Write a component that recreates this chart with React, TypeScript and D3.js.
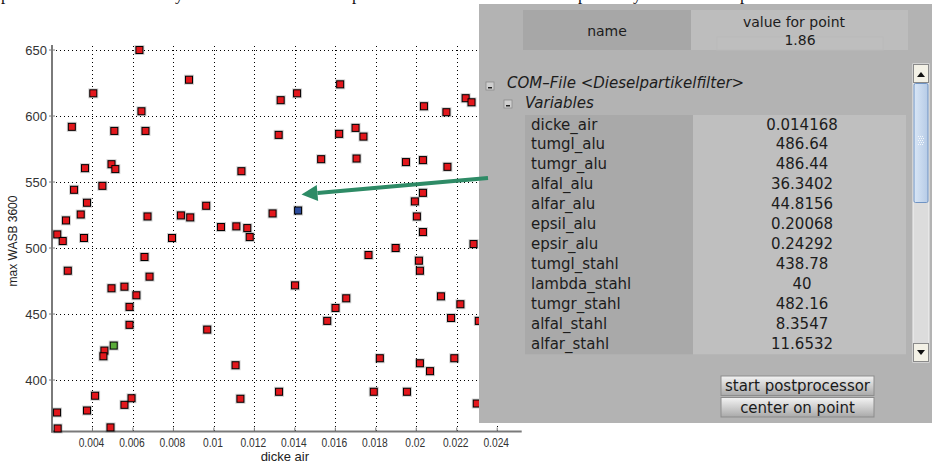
import React, { useEffect, useRef } from 'react';
import * as d3 from 'd3';

// scatter data: dicke air vs. max WASB 3600
const dickeAir = [
    0.00632, 0.00404, 0.00877, 0.00642, 0.00298, 0.00508, 0.00662, 0.00363, 0.00494, 0.00513,
    0.00309, 0.00449, 0.00373, 0.00342, 0.00269, 0.00672, 0.00837, 0.00883, 0.00962, 0.01035,
    0.01111, 0.01165, 0.01136, 0.00226, 0.00253, 0.00358, 0.00793, 0.00278, 0.00657, 0.00682,
    0.00494, 0.00558, 0.00617, 0.00583, 0.00583, 0.00459, 0.00454, 0.00967, 0.01107, 0.01131,
    0.00413, 0.00373, 0.00225, 0.00228, 0.00489, 0.00558, 0.00593, 0.01177, 0.01898, 0.01764,
    0.02013, 0.02018, 0.02283, 0.02033, 0.01401, 0.01654, 0.01601, 0.0156, 0.02122, 0.02218,
    0.02172, 0.02309, 0.0182, 0.02018, 0.02068, 0.02188, 0.01322, 0.0179, 0.01954, 0.02299,
    0.01624, 0.01411, 0.0133, 0.02038, 0.02149, 0.02244, 0.02273, 0.0132, 0.017, 0.01619,
    0.01739, 0.0153, 0.01705, 0.01949, 0.02033, 0.02154, 0.02033, 0.01993, 0.02003, 0.0129
];
const maxWasb = [
    650, 617.2, 627.5, 603.6, 591.8, 588.7, 588.7, 560.5, 563.5, 559.8,
    544.1, 547.1, 534.3, 525.4, 520.9, 523.9, 524.7, 523.2, 532.0, 515.9,
    516.4, 515.1, 558.2, 510.3, 505.3, 507.6, 507.6, 482.8, 493.2, 478.3,
    469.5, 470.7, 464.2, 455.4, 441.8, 422.3, 418.0, 438.2, 411.2, 385.8,
    388.1, 376.9, 375.4, 363.3, 364.1, 381.2, 386.2, 508.3, 500.0, 494.7,
    490.4, 482.8, 503.0, 512.1, 471.7, 461.9, 454.6, 444.8, 463.4, 457.4,
    447.0, 444.8, 416.5, 412.7, 406.7, 416.5, 391.1, 391.1, 391.1, 382.2,
    624.0, 617.2, 612.0, 607.4, 602.9, 613.5, 610.4, 585.7, 591.0, 586.5,
    584.4, 567.3, 567.8, 565.1, 566.6, 561.5, 541.8, 535.3, 523.9, 526.2
];
const greenPoint = { x: 0.00505, y: 426.1 };
const selectedPoint = { x: 0.01416, y: 528.4 };

const xTicks = [0.004, 0.006, 0.008, 0.01, 0.012, 0.014, 0.016, 0.018, 0.02, 0.022, 0.024];
const xTickLabels = ['0.004', '0.006', '0.008', '0.01', '0.012', '0.014', '0.016', '0.018', '0.02', '0.022', '0.024'];
const yTicks = [400, 450, 500, 550, 600, 650];

// info panel contents
const pointValue = '1.86';
const variableNames = [
    'dicke_air', 'tumgl_alu', 'tumgr_alu', 'alfal_alu', 'alfar_alu', 'epsil_alu',
    'epsir_alu', 'tumgl_stahl', 'lambda_stahl', 'tumgr_stahl', 'alfal_stahl', 'alfar_stahl'
];
const variableValues = [
    '0.014168', '486.64', '486.44', '36.3402', '44.8156', '0.20068',
    '0.24292', '438.78', '40', '482.16', '8.3547', '11.6532'
];

const App = () => {
    const svgRef = useRef(null);

    useEffect(() => {
        const svg = d3.select(svgRef.current);
        svg.selectAll('*').remove();

        const width = 932,
              height = 465,
              left = 52, right = 521.7, top = 45, bottom = 431.5;

        const x = d3.scaleLinear().domain([0.002, 0.02521]).range([left, right]);
        const y = d3.scaleLinear().domain([361, 653.8]).range([bottom, top]);

        svg.attr('width', width).attr('height', height);
        svg.append('rect').attr('width', width).attr('height', height).attr('fill', '#fff');

        // cropped line of text above the figure: only the descenders show
        const cutText = svg.append('g')
            .attr('font-family', '"Liberation Serif", serif')
            .attr('font-size', 17)
            .attr('fill', '#111');
        [[1, 'p'], [175, 'y'], [352, 'p'], [578, 'p'], [633, 'y'], [740, 'p']].forEach(([px, ch]) => {
            cutText.append('text').attr('x', px).attr('y', 0).text(ch);
        });

        // grid
        const grid = svg.append('g')
            .attr('stroke', '#000')
            .attr('stroke-width', 1)
            .attr('stroke-dasharray', '1,3')
            .attr('shape-rendering', 'crispEdges');

        xTicks.forEach(t => {
            const px = Math.round(x(t)) + 0.5;
            grid.append('line').attr('x1', px).attr('x2', px).attr('y1', top + 1).attr('y2', bottom);
        });
        yTicks.forEach(t => {
            const py = Math.round(y(t)) + 0.5;
            grid.append('line').attr('x1', left).attr('x2', right).attr('y1', py).attr('y2', py);
        });

        // axes
        const axes = svg.append('g').attr('stroke', '#7a7a7a').attr('fill', 'none');
        axes.append('line').attr('x1', left).attr('x2', left).attr('y1', top).attr('y2', bottom + 1).attr('stroke-width', 2);
        axes.append('line').attr('x1', left - 1).attr('x2', right).attr('y1', bottom).attr('y2', bottom).attr('stroke-width', 2);

        xTicks.forEach(t => {
            axes.append('line').attr('x1', x(t)).attr('x2', x(t)).attr('y1', bottom).attr('y2', bottom - 4).attr('stroke-width', 1);
        });
        yTicks.forEach(t => {
            axes.append('line').attr('x1', left - 3).attr('x2', left + 3).attr('y1', y(t)).attr('y2', y(t)).attr('stroke-width', 1);
        });

        const tickText = svg.append('g')
            .attr('font-family', '"Liberation Sans", Arial, sans-serif')
            .attr('fill', '#333');

        yTicks.forEach(t => {
            tickText.append('text')
                .attr('x', left - 5)
                .attr('y', y(t))
                .attr('dy', '0.36em')
                .attr('text-anchor', 'end')
                .attr('font-size', 13)
                .text(t);
        });

        xTicks.forEach((t, i) => {
            tickText.append('g')
                .attr('transform', `translate(${x(t) - 1},${446.5})`)
                .append('text')
                .attr('transform', 'scale(0.82,1)')
                .attr('text-anchor', 'middle')
                .attr('font-size', 12.5)
                .text(xTickLabels[i]);
        });

        svg.append('text')
            .attr('x', (left + right) / 2 - 2)
            .attr('y', 461)
            .attr('text-anchor', 'middle')
            .attr('font-family', '"Liberation Sans", Arial, sans-serif')
            .attr('font-size', 13)
            .attr('fill', '#222')
            .text('dicke air');

        svg.append('text')
            .attr('transform', `translate(17,${241}) rotate(-90)`)
            .attr('text-anchor', 'middle')
            .attr('font-family', '"Liberation Sans", Arial, sans-serif')
            .attr('font-size', 12)
            .attr('fill', '#222')
            .text('max WASB 3600');

        // markers
        const points = dickeAir.map((d, i) => ({ x: d, y: maxWasb[i], fill: '#e3171c' }));
        points.push({ ...greenPoint, fill: '#5aab3a' });
        points.push({ ...selectedPoint, fill: '#2c4c9c' });

        const markers = svg.append('g');
        markers.selectAll('rect.halo')
            .data(points)
            .enter()
            .append('rect')
            .attr('class', 'halo')
            .attr('x', d => x(d.x) - 5)
            .attr('y', d => y(d.y) - 5)
            .attr('width', 10)
            .attr('height', 10)
            .attr('fill', 'rgba(0,0,0,0.18)');
        markers.selectAll('rect.dot')
            .data(points)
            .enter()
            .append('rect')
            .attr('class', 'dot')
            .attr('x', d => x(d.x) - 3.5)
            .attr('y', d => y(d.y) - 3.5)
            .attr('width', 7)
            .attr('height', 7)
            .attr('fill', d => d.fill)
            .attr('stroke', '#000')
            .attr('stroke-width', 1);

        drawPanel(svg);
        drawArrow(svg);
    }, []);

    const drawPanel = function (svg) {
        const defs = svg.append('defs');
        const btnGrad = defs.append('linearGradient').attr('id', 'btnGrad').attr('x1', 0).attr('x2', 0).attr('y1', 0).attr('y2', 1);
        btnGrad.append('stop').attr('offset', '0%').attr('stop-color', '#f4f4f4');
        btnGrad.append('stop').attr('offset', '100%').attr('stop-color', '#a9a9a9');
        const thumbGrad = defs.append('linearGradient').attr('id', 'thumbGrad').attr('x1', 0).attr('x2', 1).attr('y1', 0).attr('y2', 0);
        thumbGrad.append('stop').attr('offset', '0%').attr('stop-color', '#d9e6f6');
        thumbGrad.append('stop').attr('offset', '100%').attr('stop-color', '#b6cbe6');

        const font = '"DejaVu Sans", Verdana, sans-serif';
        const panel = svg.append('g').attr('font-family', font).attr('fill', '#1c1c1c');

        panel.append('rect').attr('x', 479).attr('y', 4).attr('width', 453).attr('height', 419).attr('fill', '#b3b3b3');

        // header
        panel.append('rect').attr('x', 523).attr('y', 10).attr('width', 168).attr('height', 40).attr('fill', '#a7a7a7');
        panel.append('rect').attr('x', 691).attr('y', 10).attr('width', 217).attr('height', 40).attr('fill', '#bdbdbd');
        panel.append('rect').attr('x', 717).attr('y', 37).attr('width', 166).attr('height', 13)
            .attr('fill', '#bebebe').attr('stroke', '#bababa');
        panel.append('text').attr('x', 607).attr('y', 36).attr('text-anchor', 'middle').attr('font-size', 14).text('name');
        panel.append('text').attr('x', 794).attr('y', 27).attr('text-anchor', 'middle').attr('font-size', 14).text('value for point');
        panel.append('text').attr('x', 800).attr('y', 45).attr('text-anchor', 'middle').attr('font-size', 14).text(pointValue);

        // tree
        const treeIcon = (ix, iy) => {
            panel.append('rect').attr('x', ix).attr('y', iy).attr('width', 8).attr('height', 8)
                .attr('fill', '#cfcfcf').attr('stroke', '#8c8c8c').attr('stroke-width', 0.8);
            panel.append('rect').attr('x', ix + 2).attr('y', iy + 5).attr('width', 4).attr('height', 1.5).attr('fill', '#222');
        };
        treeIcon(486, 82);
        panel.append('text').attr('x', 507).attr('y', 88).attr('font-size', 15).attr('font-style', 'italic')
            .text('COM–File <Dieselpartikelfilter>');
        treeIcon(504, 100);
        panel.append('text').attr('x', 525).attr('y', 108).attr('font-size', 15).attr('font-style', 'italic')
            .text('Variables');

        // table of variables
        const rowH = 19.94, tableTop = 115;
        const tableH = rowH * variableNames.length;
        panel.append('rect').attr('x', 525).attr('y', tableTop).attr('width', 168).attr('height', tableH).attr('fill', '#a9a9a9');
        panel.append('rect').attr('x', 693).attr('y', tableTop).attr('width', 213).attr('height', tableH).attr('fill', '#bfbfbf');

        variableNames.forEach((name, i) => {
            const base = tableTop + i * rowH + 14.5;
            panel.append('text').attr('x', 531).attr('y', base).attr('font-size', 15).text(name);
            panel.append('text').attr('x', 802).attr('y', base).attr('font-size', 15).attr('text-anchor', 'middle').text(variableValues[i]);
        });

        // scrollbar
        const sb = panel.append('g');
        sb.append('rect').attr('x', 913).attr('y', 64).attr('width', 16).attr('height', 298)
            .attr('fill', '#dcdcdc').attr('stroke', '#f2f2f2');
        sb.append('rect').attr('x', 913.5).attr('y', 64.5).attr('width', 15).attr('height', 18)
            .attr('fill', '#f3f1e6').attr('stroke', '#8a8a8a');
        sb.append('path').attr('d', 'M917,77 L921,72 L925,77 Z').attr('fill', '#111');
        sb.append('rect').attr('x', 914).attr('y', 83.5).attr('width', 14).attr('height', 119)
            .attr('fill', 'url(#thumbGrad)').attr('stroke', '#6f93c3').attr('rx', 1.5);
        for (let gy = 0; gy < 5; gy++) {
            for (let gx = 0; gx < 3; gx++) {
                sb.append('rect').attr('x', 918 + gx * 2 + (gy % 2)).attr('y', 136 + gy * 2)
                    .attr('width', 1).attr('height', 1).attr('fill', '#f4f8fc');
            }
        }
        sb.append('rect').attr('x', 913.5).attr('y', 343.5).attr('width', 15).attr('height', 18)
            .attr('fill', '#f3f1e6').attr('stroke', '#8a8a8a');
        sb.append('path').attr('d', 'M917,350 L921,355 L925,350 Z').attr('fill', '#111');

        // buttons
        [['start postprocessor', 376], ['center on point', 397.5]].forEach(([label, by]) => {
            panel.append('rect').attr('x', 721).attr('y', by).attr('width', 153).attr('height', 19.5)
                .attr('fill', 'url(#btnGrad)').attr('stroke', '#8d8d8d');
            panel.append('text').attr('x', 797.5).attr('y', by + 15).attr('text-anchor', 'middle')
                .attr('font-size', 15).attr('fill', '#1a1a1a').text(label);
        });
    };

    const drawArrow = function (svg) {
        const tail = { x: 488, y: 178 }, tip = { x: 301.5, y: 194.5 };
        const len = Math.hypot(tip.x - tail.x, tip.y - tail.y);
        const ux = (tip.x - tail.x) / len, uy = (tip.y - tail.y) / len;
        const headLen = 16, headHalf = 8;
        const base = { x: tip.x - ux * headLen, y: tip.y - uy * headLen };

        const lineGenerator = d3.line().x(d => d.x).y(d => d.y);
        const arrow = svg.append('g').attr('fill', '#2e8b66').attr('stroke', '#2e8b66');
        arrow.append('path').attr('d', lineGenerator([tail, base])).attr('stroke-width', 4).attr('fill', 'none');
        arrow.append('path').attr('stroke', 'none').attr('d', lineGenerator([
            tip,
            { x: base.x - uy * headHalf, y: base.y + ux * headHalf },
            { x: base.x + uy * headHalf, y: base.y - ux * headHalf },
            tip
        ]));
    };

    return (
        <svg ref={svgRef} style={{ position: 'absolute', left: 0, top: 0, display: 'block' }}></svg>
    );
};

export default App;
